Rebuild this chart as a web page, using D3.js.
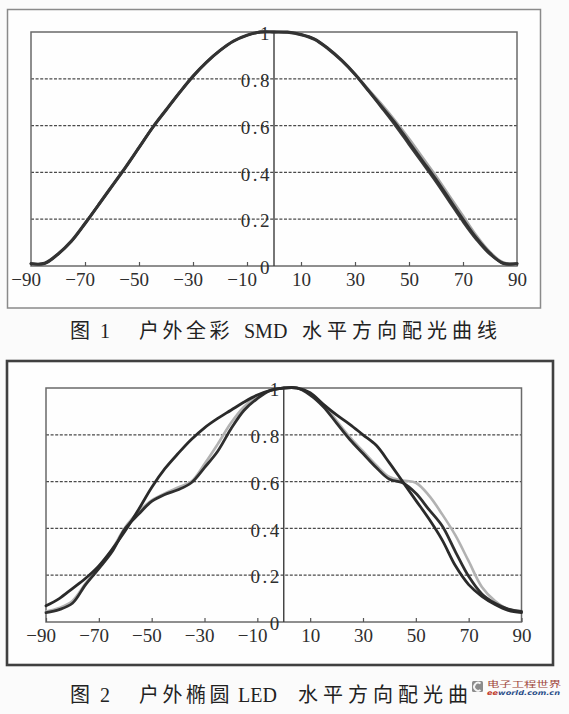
<html>

<head>
  <meta charset="utf-8">
  <title>配光曲线</title>
  <script src="https://cdn.jsdelivr.net/npm/d3@7"></script>
  <style>
    body { margin: 0; background: #fbfbfb; }
  </style>
</head>

<body>
  <script type="text/javascript">
    // Canvas
    const w = 569;
    const h = 714;

    // Vinkler (grader) - fælles for begge kurver
    const angles = [-90, -85, -80, -75, -70, -65, -60, -55, -50, -45, -40, -35, -30, -25, -20, -15, -10, -5,
      0, 5, 10, 15, 20, 25, 30, 35, 40, 45, 50, 55, 60, 65, 70, 75, 80, 85, 90];

    // Fig 1: SMD kurver
    const smdLine1 = [0.01, 0.01, 0.05, 0.105, 0.18, 0.26, 0.34, 0.42, 0.505, 0.59, 0.665, 0.74, 0.81, 0.87, 0.92, 0.96, 0.985, 1.0,
      1.0, 1.0, 0.99, 0.97, 0.93, 0.88, 0.82, 0.75, 0.68, 0.61, 0.53, 0.45, 0.37, 0.285, 0.20, 0.12, 0.055, 0.01, 0.01];
    const smdLine2 = [0.01, 0.012, 0.052, 0.108, 0.183, 0.262, 0.343, 0.423, 0.507, 0.592, 0.668, 0.742, 0.812, 0.872, 0.922, 0.962, 0.987, 1.0,
      1.0, 0.998, 0.988, 0.968, 0.928, 0.878, 0.818, 0.748, 0.675, 0.60, 0.52, 0.44, 0.36, 0.275, 0.19, 0.113, 0.05, 0.012, 0.01];
    const smdLine3 = [0.01, 0.011, 0.051, 0.106, 0.182, 0.261, 0.341, 0.421, 0.506, 0.591, 0.666, 0.741, 0.811, 0.871, 0.921, 0.961, 0.986, 1.0,
      1.0, 1.0, 0.99, 0.97, 0.932, 0.882, 0.822, 0.755, 0.69, 0.62, 0.545, 0.465, 0.385, 0.30, 0.215, 0.13, 0.06, 0.015, 0.01];

    // Fig 2: LED kurver
    const ledLine1 = [0.069, 0.10, 0.143, 0.187, 0.24, 0.31, 0.39, 0.48, 0.575, 0.655, 0.72, 0.78, 0.83, 0.87, 0.905, 0.94, 0.97, 0.99,
      1.0, 1.0, 0.98, 0.93, 0.885, 0.845, 0.80, 0.755, 0.68, 0.60, 0.52, 0.44, 0.35, 0.24, 0.16, 0.11, 0.075, 0.05, 0.04];
    const ledLine2 = [0.04, 0.053, 0.08, 0.16, 0.228, 0.30, 0.40, 0.46, 0.515, 0.545, 0.565, 0.595, 0.66, 0.73, 0.825, 0.905, 0.955, 0.99,
      1.0, 1.0, 0.97, 0.92, 0.85, 0.78, 0.72, 0.66, 0.61, 0.595, 0.55, 0.48, 0.41, 0.30, 0.195, 0.12, 0.08, 0.055, 0.045];
    const ledLine3 = [0.045, 0.06, 0.09, 0.165, 0.235, 0.31, 0.405, 0.47, 0.52, 0.55, 0.575, 0.60, 0.675, 0.76, 0.85, 0.92, 0.965, 0.99,
      1.0, 1.0, 0.975, 0.93, 0.86, 0.79, 0.73, 0.67, 0.62, 0.605, 0.595, 0.54, 0.46, 0.37, 0.26, 0.15, 0.09, 0.055, 0.045];

    // Akse-labels
    const xTicks = [-90, -70, -50, -30, -10, 10, 30, 50, 70, 90];
    const yTicks = [0, 0.2, 0.4, 0.6, 0.8, 1];
    const gridTicks = [0.2, 0.4, 0.6, 0.8];

    // Figurtekster, delt op i stykker (sidste tegn i fig 2 er dækket af logoet)
    const caption1 = ["图", "1", "户外全彩", "SMD", "水平方向配光曲线"];
    const caption2 = ["图", "2", "户外椭圆", "LED", "水平方向配光曲"];

    const numFont = "'Liberation Serif', 'DejaVu Serif', serif";
    const capFont = "'Liberation Serif', 'Noto Sans CJK SC', serif";

    const svg = d3.select("body")
      .append("svg")
      .attr("width", w)
      .attr("height", h);

    // Tegner et diagram: ramme, gitter, akser og kurver
    function drawChart(box, plot, series, caption) {
      const g = svg.append("g");

      // Ydre ramme
      g.append("rect")
        .attr("x", box.x0).attr("y", box.y0)
        .attr("width", box.x1 - box.x0).attr("height", box.y1 - box.y0)
        .attr("fill", "#fefefe")
        .attr("stroke", box.stroke)
        .attr("stroke-width", box.sw);

      const xScale = d3.scaleLinear()
        .domain([-90, 90])
        .range([plot.x0, plot.x1]);

      const yScale = d3.scaleLinear()
        .domain([0, 1])
        .range([plot.y1, plot.y0]);

      // Stiplede gitterlinjer
      g.selectAll(".grid")
        .data(gridTicks)
        .enter()
        .append("line")
        .attr("x1", plot.x0).attr("x2", plot.x1)
        .attr("y1", d => yScale(d)).attr("y2", d => yScale(d))
        .attr("stroke", "#4a4a4a")
        .attr("stroke-width", 1.2)
        .attr("stroke-dasharray", "3,1.6");

      // Plot-ramme
      g.append("rect")
        .attr("x", plot.x0).attr("y", plot.y0)
        .attr("width", plot.x1 - plot.x0).attr("height", plot.y1 - plot.y0)
        .attr("fill", "none")
        .attr("stroke", "#6a6a6a")
        .attr("stroke-width", 1.5);

      // x-akse med små ticks opad
      const xAxis = d3.axisBottom(xScale)
        .tickValues(xTicks)
        .tickSizeInner(-4)
        .tickSizeOuter(0)
        .tickPadding(7)
        .tickFormat(d => d < 0 ? "\u2212" + Math.abs(d) : String(d));

      const xg = g.append("g")
        .attr("transform", "translate(0," + plot.y1 + ")")
        .call(xAxis);
      xg.select(".domain").remove();
      xg.selectAll("line").attr("stroke", "#555").attr("stroke-width", 1.2);
      xg.selectAll("text")
        .attr("font-family", numFont)
        .attr("font-size", 19)
        .attr("fill", "#2e2e2e")
        .attr("dx", d => d < 0 ? "-0.28em" : 0);

      // y-akse i midten (ved 0 grader)
      const yAxis = d3.axisLeft(yScale)
        .tickValues(yTicks)
        .tickSize(0)
        .tickPadding(2)
        .tickFormat(d => d === 0 ? "0" : d === 1 ? "1" : d.toFixed(1));

      const yg = g.append("g")
        .attr("transform", "translate(" + xScale(0) + ",0)")
        .call(yAxis);
      yg.select(".domain").remove();
      yg.selectAll("text")
        .attr("font-family", numFont)
        .attr("font-size", 19)
        .attr("letter-spacing", 2.5)
        .attr("fill", "#2e2e2e")
        .attr("dy", "0.4em");

      // Lodret linje ved 0
      g.append("line")
        .attr("x1", xScale(0)).attr("x2", xScale(0))
        .attr("y1", plot.y0).attr("y2", plot.y1)
        .attr("stroke", "#3c3c3c")
        .attr("stroke-width", 1.4);

      // Kurver
      const line = d3.line()
        .x((d, i) => xScale(angles[i]))
        .y(d => yScale(d))
        .curve(d3.curveCatmullRom.alpha(0.5));

      series.forEach(s => {
        g.append("path")
          .datum(s.values)
          .attr("d", line)
          .attr("fill", "none")
          .attr("stroke", s.color)
          .attr("stroke-width", s.width)
          .attr("stroke-linejoin", "round")
          .attr("stroke-linecap", "round");
      });

      // Figurtekst, stykke for stykke
      const cap = svg.append("text")
        .attr("y", caption.y)
        .attr("font-family", capFont)
        .attr("font-size", 20)
        .attr("fill", "#222");
      caption.parts.forEach((p, i) => {
        cap.append("tspan")
          .attr("x", caption.xs[i])
          .attr("letter-spacing", caption.ls[i])
          .text(p);
      });
    }

    drawChart(
      { x0: 7.5, y0: 9.5, x1: 540.5, y1: 308, stroke: "#8a8a8a", sw: 1.5 },
      { x0: 31, y0: 32, x1: 517, y1: 266 },
      [
        { values: smdLine3, color: "#a8a8a8", width: 2.4 },
        { values: smdLine2, color: "#3a3a3a", width: 2.8 },
        { values: smdLine1, color: "#333333", width: 2.8 }
      ],
      { parts: caption1, xs: [70, 100, 139, 244, 302], ls: [0, 0, 3.5, 0, 5], y: 338 }
    );

    drawChart(
      { x0: 7, y0: 361, x1: 553, y1: 665, stroke: "#404040", sw: 2.6 },
      { x0: 46, y0: 388, x1: 521.5, y1: 622 },
      [
        { values: ledLine3, color: "#b2b2b2", width: 2.6 },
        { values: ledLine2, color: "#2f2f2f", width: 2.8 },
        { values: ledLine1, color: "#2a2a2a", width: 2.8 }
      ],
      { parts: caption2, xs: [70, 100, 139, 238, 298], ls: [0, 0, 3.5, 0, 5], y: 702 }
    );

    // Vandmærke (eeworld) nederst til højre
    const logo = svg.append("g");
    logo.append("rect")
      .attr("x", 472).attr("y", 681)
      .attr("width", 11).attr("height", 11)
      .attr("rx", 1.5)
      .attr("fill", "#8c8c8c");
    logo.append("path")
      .attr("d", "M480.5,683.5 A4,4 0 1,0 480.5,690")
      .attr("fill", "none")
      .attr("stroke", "#f4f4f4")
      .attr("stroke-width", 2);
    logo.append("text")
      .attr("x", 487).attr("y", 686.5)
      .attr("textLength", 74)
      .attr("lengthAdjust", "spacingAndGlyphs")
      .attr("font-family", "'Noto Sans CJK SC', sans-serif")
      .attr("font-size", 7.5)
      .attr("fill", "#a0463a")
      .text("电子工程世界");
    const url = logo.append("text")
      .attr("x", 487).attr("y", 695)
      .attr("textLength", 73)
      .attr("lengthAdjust", "spacingAndGlyphs")
      .attr("font-family", "'DejaVu Sans', sans-serif")
      .attr("font-size", 6.5)
      .attr("font-style", "italic")
      .attr("font-weight", "bold");
    url.append("tspan").attr("fill", "#c0392b").text("ee");
    url.append("tspan").attr("fill", "#2c4f8a").text("world.com.cn");
  </script>
</body>

</html>
